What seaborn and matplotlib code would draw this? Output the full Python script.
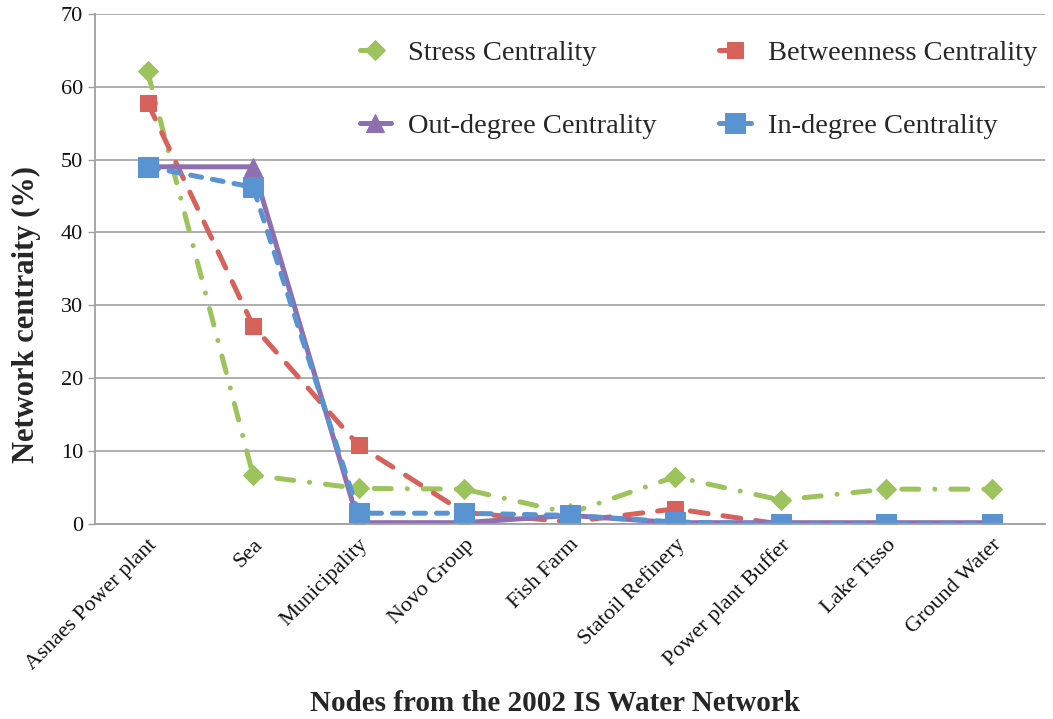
import matplotlib
matplotlib.use("Agg")
import matplotlib.pyplot as plt
import seaborn as sns
import pandas as pd

# Nodes of the 2002 industrial-symbiosis water network
nodes = ["Asnaes Power plant", "Sea", "Municipality", "Novo Group", "Fish Farm",
         "Statoil Refinery", "Power plant Buffer", "Lake Tisso", "Ground Water"]

# Centrality measures (%) per node
stress = [62.1, 6.7, 4.9, 4.8, 1.5, 6.5, 3.3, 4.8, 4.8]
betweenness = [57.8, 27.2, 10.8, 1.6, 0.3, 2.1, 0.0, 0.0, 0.0]
out_degree = [49.0, 49.0, 0.2, 0.2, 1.2, 0.2, 0.2, 0.2, 0.2]
in_degree = [49.0, 46.2, 1.5, 1.5, 1.2, 0.3, 0.0, 0.0, 0.0]

series_names = ["Stress Centrality", "Betweenness Centrality",
                "Out-degree Centrality", "In-degree Centrality"]

sns.set_theme(style="white")
plt.rcParams["font.family"] = ["Liberation Serif", "DejaVu Serif"]

fig = plt.figure(figsize=(10.53, 7.19), dpi=100)
ax = fig.add_axes([0.090, 0.271, 0.902, 0.710])

pos = list(range(len(nodes)))

styles = [
    dict(values=stress, color="#9DC35C", dashes=(3.4, 3.2, 0.01, 3.2), marker="D", ms=10.5),
    dict(values=betweenness, color="#D6625B", dashes=(3.6, 3.0), marker="s", ms=11.5),
    dict(values=out_degree, color="#8E70B2", dashes=None, marker="^", ms=12.5),
    dict(values=in_degree, color="#5A93D1", dashes=(2.2, 2.2), marker="s", ms=14.5),
]

handles = []
for name, st in zip(series_names, styles):
    df = pd.DataFrame({"pos": pos, "value": st["values"]})
    sns.lineplot(data=df, x="pos", y="value", ax=ax, color=st["color"],
                 linewidth=3.6, marker=st["marker"], markersize=st["ms"],
                 markeredgecolor=st["color"], sort=False, label=name)
    line = ax.get_lines()[-1]
    line.set_dash_capstyle("round")
    line.set_solid_capstyle("round")
    if st["dashes"] is not None:
        line.set_dashes(st["dashes"])
    handles.append(line)

ax.set_xlim(-0.5, len(nodes) - 0.5)
ax.set_ylim(0, 70)
ax.set_yticks(range(0, 71, 10))
ax.set_xticks(pos)
ax.set_xticklabels(nodes, rotation=45, ha="right", rotation_mode="anchor",
                   fontsize=16, color="#111111")
ax.tick_params(axis="x", length=0, pad=8)
ax.tick_params(axis="y", labelsize=16, length=5, width=1, color="#A0A0A0",
               direction="out", labelcolor="#111111", left=True)

ax.grid(axis="y", color="#A8A8A8", linewidth=1.3)
ax.grid(axis="x", visible=False)
for side in ["top", "right"]:
    ax.spines[side].set_visible(False)
for side in ["left", "bottom"]:
    ax.spines[side].set_color("#A0A0A0")
    ax.spines[side].set_linewidth(1.3)

ax.set_xlabel("Nodes from the 2002 IS Water Network", fontsize=21,
              fontweight="bold")
ax.xaxis.set_label_coords(0.485, -0.325)
ax.set_ylabel("Network centraity (%)", fontsize=22, fontweight="bold")
ax.yaxis.set_label_coords(-0.057, 0.41)

order = [0, 2, 1, 3]
ax.legend([handles[i] for i in order], [series_names[i] for i in order],
          ncol=2, loc="upper left", bbox_to_anchor=(0.279, 0.948),
          frameon=False, fontsize=20.5, handlelength=1.1, handletextpad=0.6,
          columnspacing=2.2, labelspacing=1.66, borderpad=0, borderaxespad=0,
          numpoints=1)

fig.savefig("out.png", dpi=100)
